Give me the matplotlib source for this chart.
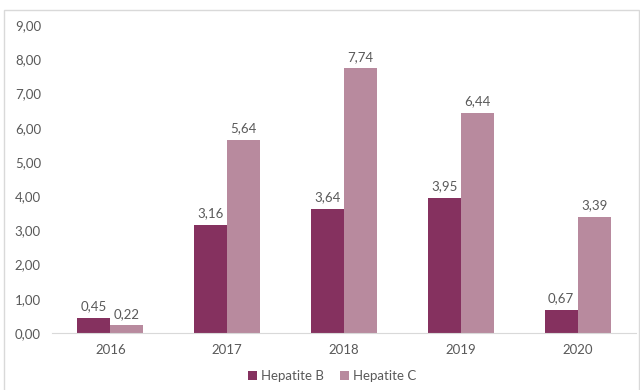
import numpy as np
import matplotlib.pyplot as plt
from matplotlib.patches import Rectangle

anos = ["2016", "2017", "2018", "2019", "2020"]
hep_b = [0.45, 3.16, 3.64, 3.95, 0.67]
hep_c = [0.22, 5.64, 7.74, 6.44, 3.39]

cor_b = "#85315F"
cor_c = "#B88A9E"
cinza = "#595959"

plt.rcParams["font.family"] = ["Lato", "DejaVu Sans"]

fig = plt.figure(figsize=(6.4, 3.9), dpi=100)
# moldura da área do gráfico
fig.patches.append(Rectangle((4 / 640, -0.01), 635 / 640, 1 - 10 / 390 + 0.01,
                             transform=fig.transFigure, fill=False,
                             edgecolor="#D9D9D9", linewidth=1))

ax = fig.add_axes([52 / 640, 1 - 333 / 390, 584 / 640, 307.8 / 390])

x = np.arange(len(anos))
w = 0.283
barras_b = ax.bar(x - w / 2, hep_b, w, color=cor_b, label="Hepatite B")
barras_c = ax.bar(x + w / 2, hep_c, w, color=cor_c, label="Hepatite C")

for barras, vals in ((barras_b, hep_b), (barras_c, hep_c)):
    for b, v in zip(barras, vals):
        ax.annotate(f"{v:.2f}".replace(".", ","),
                    (b.get_x() + b.get_width() / 2, v),
                    xytext=(0, 4), textcoords="offset points",
                    ha="center", va="bottom", fontsize=9.5, color=cinza)

ax.set_xlim(-0.5, len(anos) - 0.5)
ax.set_ylim(0, 9)
ax.set_yticks(range(10))
ax.set_yticklabels([f"{v},00" for v in range(10)])
ax.set_xticks(x)
ax.set_xticklabels(anos)
ax.tick_params(length=0, labelsize=9.5, colors=cinza)
ax.tick_params(axis="y", pad=8)
ax.tick_params(axis="x", pad=8)

for s in ("top", "right", "left"):
    ax.spines[s].set_visible(False)
ax.spines["bottom"].set_color("#D9D9D9")

fig.legend(loc="center", bbox_to_anchor=(332 / 640, 1 - 376 / 390), ncol=2,
           frameon=False, fontsize=9.5, handlelength=0.7, handleheight=0.7,
           handletextpad=0.3, columnspacing=1.2, labelcolor=cinza)

fig.savefig("out.png", dpi=100)
